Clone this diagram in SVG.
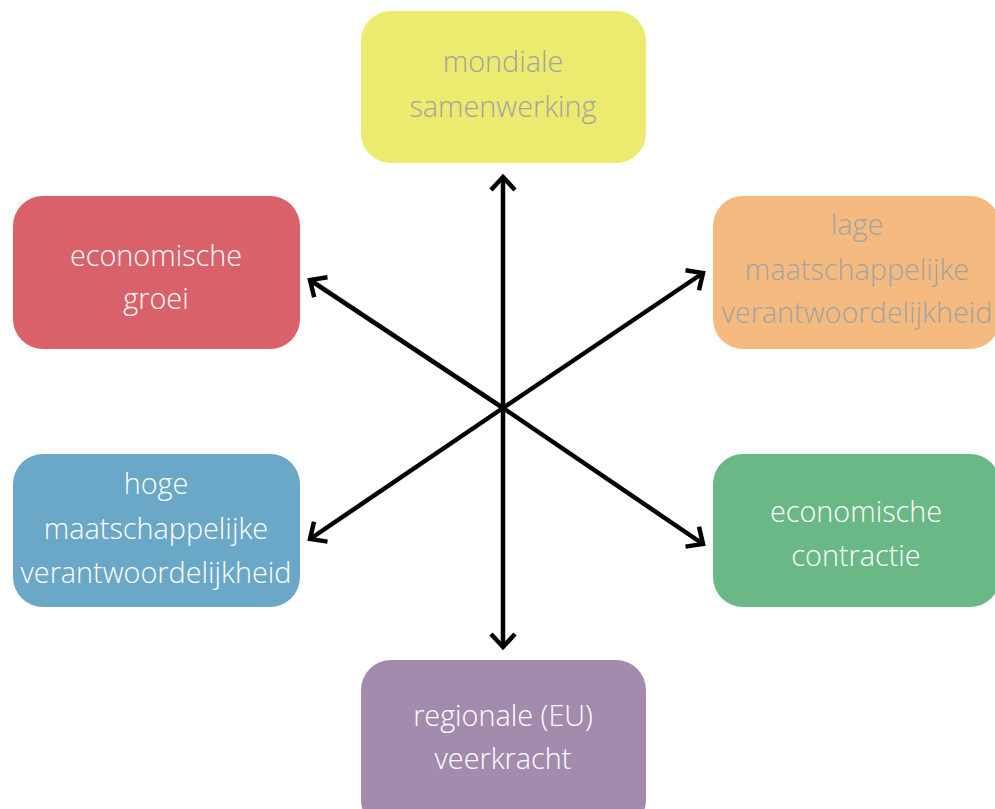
<svg xmlns="http://www.w3.org/2000/svg" width="995" height="809" viewBox="0 0 995 809">
  <style>
    .box { stroke: none; }
    .lbl { font-family: "Open Sans", Lato, "Liberation Sans", sans-serif; font-weight: 300; font-size: 28.8px; text-anchor: middle; }
    .light { fill: #ffffff; }
    .dim { fill: #a3a3a3; }
    .conn { stroke: #000000; stroke-width: 4.5; fill: none; marker-end: url(#chev); }
  </style>
  <defs>
    <marker id="chev" markerUnits="userSpaceOnUse" viewBox="-20 -16 24 32" refX="0" refY="0" markerWidth="24" markerHeight="32" orient="auto">
      <path d="M-13,-12 L0,0 L-13,12" fill="none" stroke="#000" stroke-width="4.5" stroke-linejoin="miter"/>
    </marker>
  </defs>
  <rect width="995" height="809" fill="#ffffff"/>

  <g id="connectors">
    <line class="conn" x1="503" y1="408" x2="503" y2="177"/>
    <line class="conn" x1="503" y1="408" x2="503" y2="647"/>
    <line class="conn" x1="503" y1="408" x2="310" y2="280"/>
    <line class="conn" x1="503" y1="408" x2="703" y2="273"/>
    <line class="conn" x1="503" y1="408" x2="310" y2="539"/>
    <line class="conn" x1="503" y1="408" x2="703" y2="544"/>
  </g>

  <g id="mondiale-samenwerking">
    <rect class="box" x="361" y="11" width="285" height="152" rx="30" fill="#ecea6f"/>
    <text class="lbl dim" x="503" y="72">mondiale</text>
    <text class="lbl dim" x="503" y="117">samenwerking</text>
  </g>

  <g id="economische-groei">
    <rect class="box" x="13" y="196" width="287" height="153" rx="30" fill="#d9626a"/>
    <text class="lbl light" x="156" y="266">economische</text>
    <text class="lbl light" x="156" y="309">groei</text>
  </g>

  <g id="lage-verantwoordelijkheid">
    <rect class="box" x="713" y="196" width="287" height="153" rx="30" fill="#f5ba7f"/>
    <text class="lbl dim" x="857" y="235">lage</text>
    <text class="lbl dim" x="857" y="280">maatschappelijke</text>
    <text class="lbl dim" x="857" y="323">verantwoordelijkheid</text>
  </g>

  <g id="hoge-verantwoordelijkheid">
    <rect class="box" x="13" y="454" width="287" height="153" rx="30" fill="#6ba7c7"/>
    <text class="lbl light" x="156" y="494">hoge</text>
    <text class="lbl light" x="156" y="539">maatschappelijke</text>
    <text class="lbl light" x="156" y="583">verantwoordelijkheid</text>
  </g>

  <g id="economische-contractie">
    <rect class="box" x="713" y="454" width="287" height="153" rx="30" fill="#69b886"/>
    <text class="lbl light" x="856" y="522">economische</text>
    <text class="lbl light" x="856" y="566">contractie</text>
  </g>

  <g id="regionale-veerkracht">
    <rect class="box" x="361" y="660" width="285" height="170" rx="30" fill="#a38bae"/>
    <text class="lbl light" x="503" y="726">regionale (EU)</text>
    <text class="lbl light" x="503" y="769">veerkracht</text>
  </g>
</svg>
